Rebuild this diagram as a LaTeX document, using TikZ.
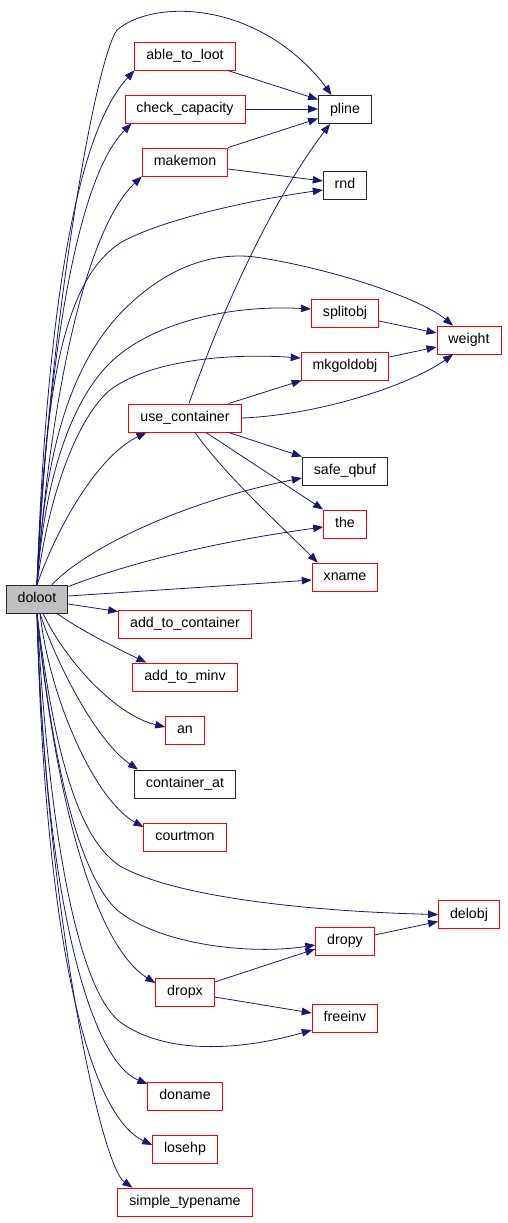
\documentclass[tikz,border=0pt]{standalone}
\usepackage{fontspec}
\setmainfont{Liberation Sans}
\usetikzlibrary{arrows.meta,calc}
\definecolor{cgEdge}{RGB}{25,25,112}
\definecolor{cgRed}{RGB}{255,0,0}
\definecolor{cgRoot}{RGB}{191,191,191}

\begin{document}
\begin{tikzpicture}[
  x=1pt, y=-1pt,
  font=\fontsize{14.2}{16}\selectfont,
  fn/.style={
    draw=cgRed, fill=white, line width=0.9pt, inner xsep=11.5pt, inner ysep=0pt,
    minimum height=28pt, text height=10.5pt, text depth=3pt
  },
  ext/.style={fn, draw=black!85},
  root/.style={fn, draw=black!85, fill=cgRoot},
  call/.style={-{Triangle[length=10pt,width=7.5pt]}, cgEdge, line width=0.8pt}
]
\useasboundingbox (0,0) rectangle (507,1223);

% caller
\node[root] (doloot) at (37,599) {doloot};

% first column
\node[fn]  (able_to_loot)     at (185,56)    {able\_to\_loot};
\node[fn]  (capacity)         at (185,109)   {check\_capacity};
\node[fn]  (makemon)          at (185,162)   {makemon};
\node[fn]  (use_container)    at (185,418)   {use\_container};
\node[fn]  (add_to_container) at (185,624)   {add\_to\_container};
\node[fn]  (add_to_minv)      at (185,677)   {add\_to\_minv};
\node[fn]  (an)               at (185,730)   {an};
\node[ext] (container_at)     at (185,784)   {container\_at};
\node[fn]  (courtmon)         at (185,837)   {courtmon};
\node[fn]  (dropx)            at (185,992)   {dropx};
\node[fn]  (doname)           at (185,1096)  {doname};
\node[fn]  (losehp)           at (185,1149)  {losehp};
\node[fn]  (simple_typename)  at (185,1202)  {simple\_typename};

% second column
\node[ext] (pline)     at (345,109.5) {pline};
\node[ext] (rnd)       at (345,185)   {rnd};
\node[fn]  (splitobj)  at (345,313)   {splitobj};
\node[fn]  (mkgoldobj) at (345,366)   {mkgoldobj};
\node[ext] (safe_qbuf) at (345,471)   {safe\_qbuf};
\node[fn]  (the)       at (345,524)   {the};
\node[fn]  (xname)     at (345,577)   {xname};
\node[fn]  (dropy)     at (345,941)   {dropy};
\node[fn]  (freeinv)   at (345,1018)  {freeinv};

% third column
\node[fn] (weight) at (469,340)   {weight};
\node[fn] (delobj) at (469,914.5) {delobj};

% doloot, upwards
\draw[call] (doloot.north) .. controls (48,330) and (95,60) .. (117,30)
  .. controls (143,8) and (200,3) .. (253,28)
  .. controls (290,45) and (315,72) .. ($(pline.north)!0.5!(pline.north west)$);
\draw[call] (doloot.north) .. controls (45,350) and (70,140) .. (able_to_loot.south west);
\draw[call] (doloot.north) .. controls (47,370) and (75,180) .. ($(capacity.south west)+(7,0)$);
\draw[call] (doloot.north) .. controls (50,400) and (85,230) .. (makemon.south west);
\draw[call] (doloot.north) .. controls (45,380) and (65,280) .. (120,243)
  .. controls (160,220) and (250,200) .. ($(rnd.west)+(0,5)$);
\draw[call] (doloot.north) .. controls (45,450) and (70,370) .. (117,317)
  .. controls (165,265) and (215,252) .. (255,257)
  .. controls (330,268) and (420,298) .. ($(weight.north)+(-16,0)$);
\draw[call] (doloot.north) .. controls (45,470) and (75,395) .. (113,360)
  .. controls (160,318) and (240,305) .. ($(splitobj.west)+(0,-4)$);
\draw[call] (doloot.north) .. controls (48,500) and (75,420) .. (110,390)
  .. controls (150,360) and (230,353) .. ($(mkgoldobj.west)+(0,-8)$);
\draw[call] (doloot.north) .. controls (60,520) and (100,455) .. ($(use_container.south west)+(18,0)$);
\draw[call] ($(doloot.north)+(15,0)$) .. controls (90,545) and (190,500) .. ($(safe_qbuf.west)+(0,7)$);
\draw[call] ($(doloot.north east)+(0,2)$) .. controls (150,555) and (250,537) .. ($(the.west)+(0,3)$);
\draw[call] ($(doloot.east)+(0,-3)$) -- ($(xname.west)+(0,3)$);
\draw[call] ($(doloot.east)+(0,5)$) -- ($(add_to_container.north west)+(0,2)$);

% doloot, downwards
\draw[call] ($(doloot.south)+(20,0)$) .. controls (80,630) and (120,650) .. ($(add_to_minv.north west)+(14,0)$);
\draw[call] ($(doloot.south)+(6,0)$) .. controls (65,660) and (115,715) .. ($(an.west)+(0,-3)$);
\draw[call] ($(doloot.south)+(3,0)$) .. controls (55,660) and (95,740) .. ($(container_at.north west)+(4,0)$);
\draw[call] ($(doloot.south)+(3,0)$) .. controls (50,700) and (95,800) .. ($(courtmon.west)+(0,-10)$);
\draw[call] (doloot.south) .. controls (55,760) and (80,840) .. (120,866)
  .. controls (180,900) and (330,912) .. (delobj.west);
\draw[call] (doloot.south) .. controls (55,790) and (85,880) .. (117,910)
  .. controls (160,945) and (250,955) .. ($(dropy.west)+(0,4)$);
\draw[call] (doloot.south) .. controls (55,800) and (95,945) .. ($(dropx.west)+(0,-9)$);
\draw[call] (doloot.south) .. controls (50,850) and (80,990) .. (120,1022)
  .. controls (170,1058) and (250,1048) .. ($(freeinv.west)+(0,12)$);
\draw[call] (doloot.south) .. controls (45,900) and (90,1060) .. ($(doname.west)+(0,-12)$);
\draw[call] (doloot.south) .. controls (45,950) and (90,1115) .. ($(losehp.west)+(0,-4)$);
\draw[call] (doloot.south) .. controls (45,900) and (100,1165) .. ($(simple_typename.north west)+(15,0)$);

% inner calls
\draw[call] ($(able_to_loot.south east)+(-8,0)$) -- ($(pline.west)+(0,-10)$);
\draw[call] (capacity.east) -- ($(pline.west)+(0,-0.5)$);
\draw[call] (makemon.north east) -- ($(pline.west)+(0,9)$);
\draw[call] ($(makemon.east)+(0,7)$) -- ($(rnd.west)+(0,-4)$);
\draw[call] ($(use_container.north)+(4,0)$) .. controls (215,330) and (265,210) .. ($(pline.south)+(-15,0)$);
\draw[call] ($(use_container.north east)+(-13,0)$) -- ($(mkgoldobj.south west)+(1,0)$);
\draw[call] (use_container.east) .. controls (320,415) and (410,385) .. ($(weight.south)+(-16,0)$);
\draw[call] ($(use_container.south east)+(-13,0)$) -- (safe_qbuf.north west);
\draw[call] ($(use_container.south)+(21,0)$) -- (the.north west);
\draw[call] ($(use_container.south)+(10,0)$) .. controls (225,475) and (280,525) .. ($(xname.north west)+(6,0)$);
\draw[call] ($(splitobj.east)+(0,8)$) -- ($(weight.west)+(0,-7)$);
\draw[call] ($(mkgoldobj.east)+(0,-9)$) -- ($(weight.west)+(0,7)$);
\draw[call] ($(dropy.east)+(0,-6)$) -- ($(delobj.west)+(0,7)$);
\draw[call] ($(dropx.east)+(0,-10)$) -- ($(dropy.west)+(0,8)$);
\draw[call] ($(dropx.east)+(0,5)$) -- ($(freeinv.west)+(0,-5)$);

\end{tikzpicture}
\end{document}
